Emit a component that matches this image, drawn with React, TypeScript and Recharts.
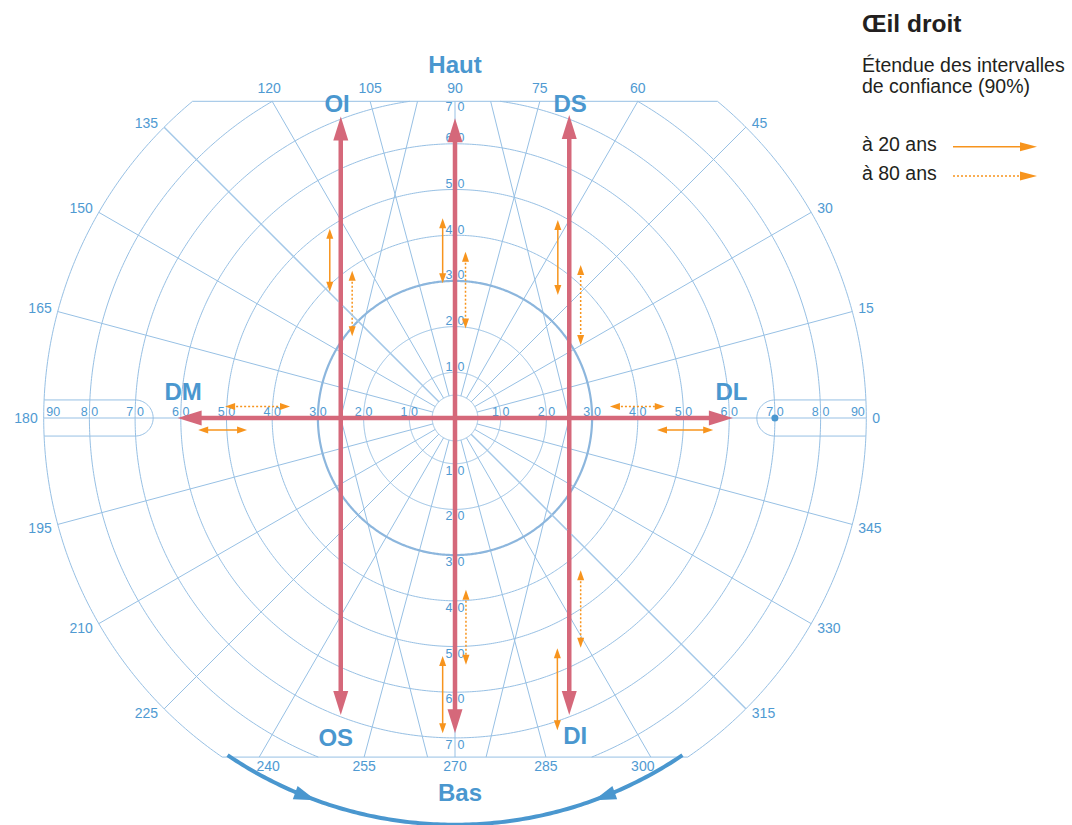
import { Scatter, ScatterChart, XAxis, YAxis } from "recharts";

const W = 1072;
const H = 825;
// pixel position of the fixation point and pixels per degree
const CX = 455;
const CY = 418;
const K = 4.57;

const FONT = '"Liberation Sans", Arial, Helvetica, sans-serif';
const GRID = "#97c0e4";
const GRID_SOFT = "#a4c8e8";
const GRID_30 = "#8cb6dd";
const NUM = "#4f9ad2";
const BLUE = "#4a97cf";
const RED = "#d5687a";
const ORANGE = "#f7941d";
const INK = "#231f20";

// limits of the field chart, in degrees
const TOP_LIMIT = 69.3;
const BOTTOM_LIMIT = -74.2;
const TAB_HALF = 3.95;
const TAB_START = 70;

const rings = [5, 10, 20, 40, 50, 60, 70, 80, 90];
const boldRing = 30;
const meridians = [0, 15, 30, 45, 60, 75, 90, 105, 120, 135, 150, 165, 180, 195, 210, 225, 240, 255, 270, 285, 300, 315, 330, 345];
const hRingLabels = [10, 20, 30, 40, 50, 60, 70, 80, 90];
const vRingLabels = [10, 20, 30, 40, 50, 60, 70];

// oblique guide lines: from the chart edge to the 25° points of the horizontal meridian
const guideLines = [
  { x1: -8.2, y1: TOP_LIMIT, x2: -25, y2: 0 },
  { x1: 7.8, y1: TOP_LIMIT, x2: 25, y2: 0 },
  { x1: -6, y1: BOTTOM_LIMIT, x2: -25, y2: 0 },
  { x1: 6.8, y1: BOTTOM_LIMIT, x2: 25, y2: 0 },
];

// red arrows: muscle field of action, tips in degrees
const muscleArrows = [
  { x1: -25, y1: 66, x2: -25, y2: -65 },
  { x1: 0, y1: 65.6, x2: 0, y2: -69 },
  { x1: 25, y1: 66.3, x2: 25, y2: -65 },
  { x1: -60.7, y1: 0, x2: 60.8, y2: 0 },
];

// 90% confidence ranges, age 20 (solid)
const age20 = [
  { x1: -27.4, y1: 41.4, x2: -27.4, y2: 27.6 },
  { x1: -2.7, y1: 43.7, x2: -2.7, y2: 29.5 },
  { x1: 22.5, y1: 43.3, x2: 22.5, y2: 26.9 },
  { x1: -2.7, y1: -52.1, x2: -2.7, y2: -69 },
  { x1: 22.4, y1: -50.4, x2: 22.4, y2: -68.3 },
  { x1: -56.2, y1: -2.6, x2: -45.5, y2: -2.6 },
  { x1: 44.2, y1: -2.6, x2: 56.5, y2: -2.6 },
];

// 90% confidence ranges, age 80 (dotted)
const age80 = [
  { x1: -22.5, y1: 32.2, x2: -22.5, y2: 17.9 },
  { x1: 2.3, y1: 36.4, x2: 2.3, y2: 19.6 },
  { x1: 27.5, y1: 33.5, x2: 27.5, y2: 16 },
  { x1: 2.4, y1: -37.6, x2: 2.4, y2: -54 },
  { x1: 27.5, y1: -33.3, x2: 27.5, y2: -50.3 },
  { x1: -50.3, y1: 2.5, x2: -36.1, y2: 2.5 },
  { x1: 33.9, y1: 2.5, x2: 45.9, y2: 2.5 },
];

const muscleNames = ["Haut", "OI", "DS", "DM", "DL", "OS", "DI", "Bas"];
const musclePos: Record<string, [number, number]> = {
  Haut: [0, 77.4],
  OI: [-25.8, 68.7],
  DS: [25.2, 68.7],
  DM: [-59.5, 5.7],
  DL: [60.5, 5.7],
  OS: [-26.1, -69.9],
  DI: [26.3, -69.6],
  Bas: [1.1, -82],
};

const basArc = { r: 89, from: 236, to: 304 };
const basHeads = [
  { at: 250, dir: 1 },
  { at: 290, dir: -1 },
];
const fieldMark = { x: 70, y: 0 };

const labelNudge: Record<number, number> = { 120: -3, 240: 9, 300: -8 };

// diagonal meridians redrawn on top, leaving the red arrows uncovered
const diagonalPieces: { a: number; r0: number; r1: number }[] = [
  { a: 135, r0: 5, r1: 34.7 },
  { a: 135, r0: 36, r1: 90 },
  { a: 315, r0: 5, r1: 34.7 },
  { a: 315, r0: 36, r1: 90 },
];

type Pt = { x: number; y: number };

const rad = (d: number) => (d * Math.PI) / 180;
const deg = (r: number) => (r * 180) / Math.PI;
const polar = (r: number, a: number): Pt => ({ x: r * Math.cos(rad(a)), y: r * Math.sin(rad(a)) });

function arc(r: number, a0: number, a1: number, step = 0.5) {
  const n = Math.max(2, Math.ceil(Math.abs(a1 - a0) / step));
  const pts: Pt[] = [];
  for (let i = 0; i <= n; i++) pts.push(polar(r, a0 + ((a1 - a0) * i) / n));
  return pts;
}

function ringArcs(r: number): [number, number][] {
  const t = r > TOP_LIMIT ? deg(Math.asin(TOP_LIMIT / r)) : null;
  const b = r > -BOTTOM_LIMIT ? deg(Math.asin(-BOTTOM_LIMIT / r)) : null;
  if (t === null && b === null) return [[0, 360]];
  if (t === null) return [[-(b as number), 180 + (b as number)]];
  if (b === null) return [[180 - t, 360 + t]];
  return [
    [-b, t],
    [180 - t, 180 + b],
  ];
}

function meridianEnd(a: number) {
  const c = Math.cos(rad(a));
  const s = Math.sin(rad(a));
  let r = 90;
  let side = c > 0.01 ? "right" : c < -0.01 ? "left" : "mid";
  if (s * 90 > TOP_LIMIT) {
    r = TOP_LIMIT / s;
    side = "top";
  } else if (s * 90 < BOTTOM_LIMIT) {
    r = BOTTOM_LIMIT / s;
    side = "bottom";
  }
  return { x: r * c, y: r * s, side, a };
}

function chord(yLim: number): Pt[] {
  const half = Math.sqrt(90 * 90 - yLim * yLim);
  return [
    { x: -half, y: yLim },
    { x: half, y: yLim },
  ];
}

// semicircle centred on the 70° point, with the strip running out to the 90° ring
function tabPoints(sign: number): Pt[] {
  const outer = Math.sqrt(90 * 90 - TAB_HALF * TAB_HALF);
  const pts: Pt[] = [{ x: sign * outer, y: TAB_HALF }];
  for (let i = 0; i <= 36; i++) {
    const t = rad(90 + (180 * i) / 36);
    pts.push({ x: sign * (TAB_START + TAB_HALF * Math.cos(t)), y: TAB_HALF * Math.sin(t) });
  }
  pts.push({ x: sign * outer, y: -TAB_HALF });
  return pts;
}

function tri(tx: number, ty: number, ux: number, uy: number, len: number, wid: number) {
  const bx = tx - ux * len;
  const by = ty - uy * len;
  const nx = -uy * (wid / 2);
  const ny = ux * (wid / 2);
  return `${tx},${ty} ${bx + nx},${by + ny} ${bx - nx},${by - ny}`;
}

const noDot = () => <g />;

// draws consecutive runs of points (lengths given) as one path
const polylines = (lengths: number[], stroke: string, width: number) => (p: any) => {
  const pts = p.points ?? [];
  let d = "";
  let k = 0;
  for (const n of lengths) {
    for (let i = 0; i < n && k + i < pts.length; i++) {
      const q = pts[k + i];
      d += `${i ? "L" : "M"}${q.x.toFixed(2)},${q.y.toFixed(2)}`;
    }
    k += n;
  }
  return <path d={d} stroke={stroke} strokeWidth={width} fill="none" />;
};

// draws pairs of points as double-headed arrows
const arrows = (color: string, width: number, headLen: number, headWid: number, dash?: string) => (p: any) => {
  const pts = p.points ?? [];
  const out: any[] = [];
  for (let i = 0; i + 1 < pts.length; i += 2) {
    const a = pts[i];
    const b = pts[i + 1];
    const L = Math.hypot(b.x - a.x, b.y - a.y) || 1;
    const ux = (b.x - a.x) / L;
    const uy = (b.y - a.y) / L;
    const inset = headLen * 0.7;
    out.push(
      <g key={i}>
        <line
          x1={a.x + ux * inset}
          y1={a.y + uy * inset}
          x2={b.x - ux * inset}
          y2={b.y - uy * inset}
          stroke={color}
          strokeWidth={width}
          strokeDasharray={dash}
        />
        <polygon points={tri(a.x, a.y, -ux, -uy, headLen, headWid)} fill={color} />
        <polygon points={tri(b.x, b.y, ux, uy, headLen, headWid)} fill={color} />
      </g>
    );
  }
  return <g>{out}</g>;
};

const angleLabel = (p: any) => {
  const { cx, cy, payload } = p;
  const style = { fontSize: 14, fill: NUM, fontFamily: FONT };
  const nudge = labelNudge[payload.a] ?? 0;
  if (payload.side === "top")
    return <text x={cx + nudge} y={cy - 8.5} textAnchor="middle" style={style}>{payload.a}</text>;
  if (payload.side === "bottom")
    return <text x={cx + nudge} y={cy + 14} textAnchor="middle" style={style}>{payload.a}</text>;
  const up = payload.y > 0.1 ? -4 : payload.y < -0.1 ? 4 : 0;
  if (payload.side === "left")
    return <text x={cx - 6} y={cy + 5 + up} textAnchor="end" style={style}>{payload.a}</text>;
  return <text x={cx + 6} y={cy + 5 + up} textAnchor="start" style={style}>{payload.a}</text>;
};

const ringLabel = (p: any) => {
  const { cx, cy, payload } = p;
  const style = { fontSize: 12.5, fill: NUM, fontFamily: FONT };
  const t = String(payload.v);
  if (payload.kind === "h") {
    const y = cy - 2.5;
    if (payload.v === 90)
      return payload.x < 0 ? (
        <text x={cx + 2.5} y={y} textAnchor="start" style={style}>{t}</text>
      ) : (
        <text x={cx - 1.5} y={y} textAnchor="end" style={style}>{t}</text>
      );
    return (
      <g>
        <text x={cx - 1.8} y={y} textAnchor="end" style={style}>{t[0]}</text>
        <text x={cx + 1.8} y={y} textAnchor="start" style={style}>{t[1]}</text>
      </g>
    );
  }
  const y = payload.y > 0 ? (payload.v === 70 ? cy + 13 : cy - 1.5) : cy + 11;
  return (
    <g>
      <text x={cx - 2.5} y={y} textAnchor="end" style={style}>{t[0]}</text>
      <text x={cx + 2.5} y={y} textAnchor="start" style={style}>{t[1]}</text>
    </g>
  );
};

const muscleLabel = (p: any) => (
  <text
    x={p.cx}
    y={p.cy + 8.3}
    textAnchor="middle"
    style={{ fontSize: 24, fontWeight: 700, fill: BLUE, fontFamily: FONT }}
  >
    {p.payload.name}
  </text>
);

const arcHead = (p: any) => {
  const { cx, cy, payload } = p;
  const tangent = payload.at + 90 * payload.dir;
  const a = rad(-tangent);
  return <polygon points={tri(cx, cy, Math.cos(a), Math.sin(a), 22, 14)} fill={BLUE} />;
};

const markDot = (p: any) => <circle cx={p.cx} cy={p.cy} r={3.5} fill={BLUE} />;

const pairPoints = (list: { x1: number; y1: number; x2: number; y2: number }[]) =>
  list.flatMap((s) => [
    { x: s.x1, y: s.y1 },
    { x: s.x2, y: s.y2 },
  ]);

export default function App() {
  // every thin grid line, as a list of polylines
  const gridRuns: Pt[][] = [
    ...rings.flatMap((r) => ringArcs(r).map(([a0, a1]) => arc(r, a0, a1))),
    ...meridians.map((a) => {
      const e = meridianEnd(a);
      return [polar(5, a), { x: e.x, y: e.y }];
    }),
    ...guideLines.map((g) => [
      { x: g.x1, y: g.y1 },
      { x: g.x2, y: g.y2 },
    ]),
    chord(TOP_LIMIT),
    chord(BOTTOM_LIMIT),
    tabPoints(-1),
    tabPoints(1),
  ];
  const gridData = gridRuns.flat();
  const gridLengths = gridRuns.map((r) => r.length);
  const diagData = diagonalPieces.flatMap((d) => [polar(d.r0, d.a), polar(d.r1, d.a)]);

  const angleData = meridians.map((a) => meridianEnd(a));
  const ringLabelData = [
    ...hRingLabels.flatMap((v) => [
      { x: -v, y: 0, v, kind: "h" },
      { x: v, y: 0, v, kind: "h" },
    ]),
    ...vRingLabels.flatMap((v) => [
      { x: 0, y: v, v, kind: "v" },
      { x: 0, y: -v, v, kind: "v" },
    ]),
  ];
  const muscleData = muscleNames.map((name) => ({ x: musclePos[name][0], y: musclePos[name][1], name }));
  const basHeadData = basHeads.map((h) => ({ ...polar(basArc.r, h.at), ...h }));
  const basData = arc(basArc.r, basArc.from, basArc.to);
  const ring30 = arc(boldRing, 0, 360);

  return (
    <div style={{ position: "absolute", left: 0, top: 0, width: W, height: H, background: "#fff" }}>
      <ScatterChart width={W} height={H} margin={{ top: 0, right: 0, bottom: 0, left: 0 }}>
        <XAxis type="number" dataKey="x" domain={[-CX / K, (W - CX) / K]} hide allowDataOverflow />
        <YAxis type="number" dataKey="y" domain={[-(H - CY) / K, CY / K]} hide allowDataOverflow />

        <Scatter
          data={gridData}
          line={polylines(gridLengths, GRID, 1)}
          shape={noDot}
          isAnimationActive={false}
          legendType="none"
        />
        <Scatter
          data={ring30}
          line={polylines([ring30.length], GRID_30, 2.2)}
          shape={noDot}
          isAnimationActive={false}
          legendType="none"
        />
        <Scatter data={[fieldMark]} shape={markDot} isAnimationActive={false} legendType="none" />

        <Scatter data={angleData} shape={angleLabel} isAnimationActive={false} legendType="none" />
        <Scatter data={ringLabelData} shape={ringLabel} isAnimationActive={false} legendType="none" />

        <Scatter
          data={pairPoints(age20)}
          line={arrows(ORANGE, 1.5, 10, 7)}
          shape={noDot}
          isAnimationActive={false}
          legendType="none"
        />
        <Scatter
          data={pairPoints(age80)}
          line={arrows(ORANGE, 1.5, 10, 7, "2 2")}
          shape={noDot}
          isAnimationActive={false}
          legendType="none"
        />
        <Scatter
          data={pairPoints(muscleArrows)}
          line={arrows(RED, 4.5, 24, 15)}
          shape={noDot}
          isAnimationActive={false}
          legendType="none"
        />

        <Scatter
          data={basData}
          line={polylines([basData.length], BLUE, 4)}
          shape={noDot}
          isAnimationActive={false}
          legendType="none"
        />
        <Scatter data={basHeadData} shape={arcHead} isAnimationActive={false} legendType="none" />
        <Scatter data={muscleData} shape={muscleLabel} isAnimationActive={false} legendType="none" />
        <Scatter
          data={diagData}
          line={polylines(diagonalPieces.map(() => 2), GRID_SOFT, 1.5)}
          shape={noDot}
          isAnimationActive={false}
          legendType="none"
        />
      </ScatterChart>

      <svg width={220} height={200} style={{ position: "absolute", left: 852, top: 0 }}>
        <g style={{ fontFamily: FONT, fill: INK }}>
          <text x={10} y={31.5} style={{ fontSize: 24.5, fontWeight: 700 }}>Œil droit</text>
          <text x={10} y={72} style={{ fontSize: 19.5 }}>Étendue des intervalles</text>
          <text x={10} y={93} style={{ fontSize: 19.5 }}>de confiance (90%)</text>
          <text x={10} y={150.5} style={{ fontSize: 19.5 }}>à 20 ans</text>
          <text x={10} y={179.5} style={{ fontSize: 19.5 }}>à 80 ans</text>
        </g>
        <line x1={101} y1={146.7} x2={170} y2={146.7} stroke={ORANGE} strokeWidth={1.5} />
        <polygon points={tri(185, 146.7, 1, 0, 17, 9)} fill={ORANGE} />
        <line x1={101} y1={176} x2={170} y2={176} stroke={ORANGE} strokeWidth={1.5} strokeDasharray="2 2" />
        <polygon points={tri(185, 176, 1, 0, 17, 9)} fill={ORANGE} />
      </svg>
    </div>
  );
}
